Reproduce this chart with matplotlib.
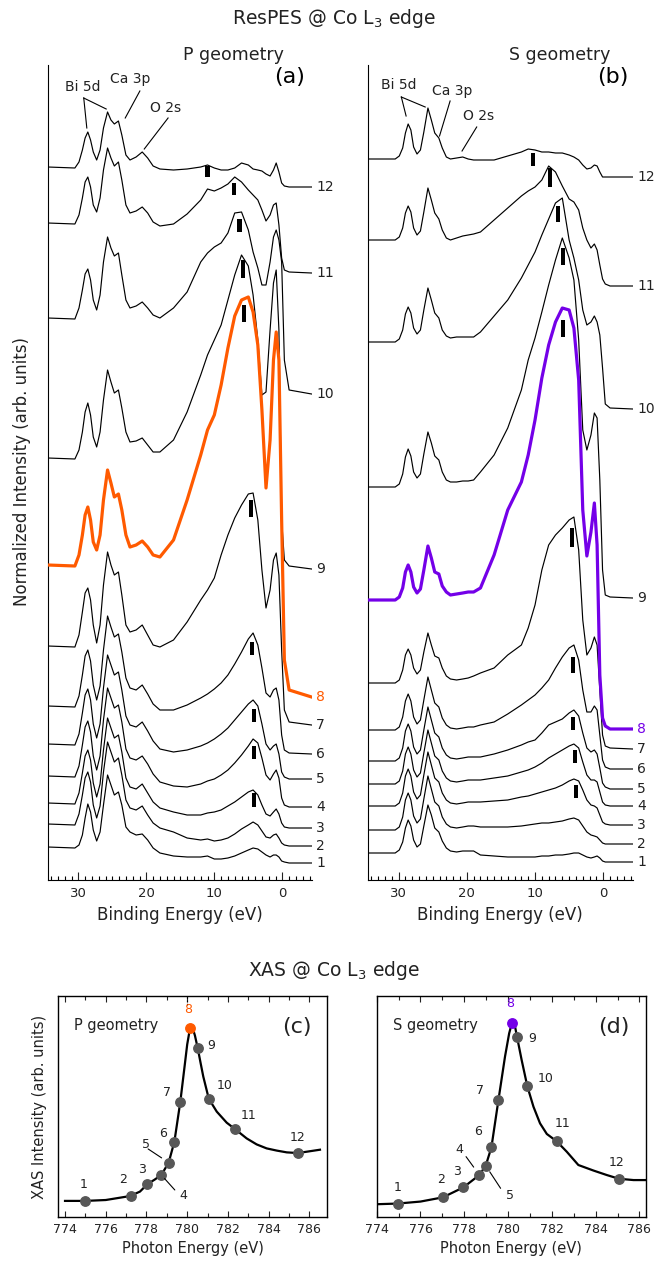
import matplotlib
matplotlib.use("Agg")
import matplotlib.pyplot as plt
from matplotlib.ticker import MultipleLocator
import numpy as np

plt.rcParams['font.family'] = ['DejaVu Sans']

# ---------------------------------------------------------------------------
# ResPES spectra: common binding-energy sampling (eV)
# ---------------------------------------------------------------------------
binding_energy = [34.5, 30.5, 29.9, 29.4, 29.0, 28.6, 28.2, 27.8, 27.3, 26.8,
                  26.3, 25.7, 25.2, 24.7, 24.1, 23.6, 23.0, 22.4, 21.5, 20.6,
                  19.8, 19.0, 18.0, 16.0, 14.0, 12.0, 11.0, 10.0, 9.0, 8.0,
                  7.0, 6.0, 5.0, 4.3, 3.6, 3.0, 2.4, 1.8, 1.3, 0.9,
                  0.5, 0.1, -0.3, -1.0, -4.3]

spectrum_ids = list(range(1, 13))

# P geometry: intensity of each spectrum above its own baseline (arb. units)
p_spec_1 = [16, 15, 18, 28, 45, 59, 51, 33, 22, 31, 58, 88, 78, 68, 71, 58, 36, 31, 28, 29, 23, 15, 10,
            7, 6, 6, 7, 4, 4, 5, 7, 10, 13, 15, 14, 11, 8, 6, 8, 8, 6, 2, 1, 0, 0]
p_spec_2 = [22, 21, 32, 51, 68, 74, 64, 41, 28, 40, 74, 104, 94, 84, 88, 71, 46, 38, 36, 40, 31, 23, 18,
            14, 8, 6, 7, 5, 6, 8, 12, 17, 21, 24, 21, 15, 9, 8, 11, 12, 8, 3, 1, 0, 0]
p_spec_3 = [25, 24, 35, 55, 72, 78, 68, 45, 31, 44, 78, 110, 100, 90, 93, 76, 50, 41, 39, 44, 35, 26, 20,
            16, 13, 13, 15, 16, 18, 22, 26, 31, 36, 38, 33, 23, 14, 12, 16, 19, 14, 5, 1, 0, 0]
p_spec_4 = [31, 30, 41, 62, 80, 86, 75, 51, 37, 51, 87, 119, 109, 99, 102, 85, 58, 49, 47, 51, 43, 33, 25,
            21, 20, 23, 26, 28, 32, 37, 44, 52, 61, 68, 64, 49, 32, 27, 33, 37, 29, 9, 2, 0, 0]
p_spec_5 = [35, 34, 45, 66, 84, 90, 79, 55, 41, 55, 91, 124, 114, 104, 107, 89, 63, 54, 52, 57, 48, 38, 30,
            27, 29, 33, 36, 40, 45, 51, 59, 67, 75, 79, 73, 55, 35, 29, 33, 35, 25, 7, 2, 0, 0]
p_spec_6 = [48, 47, 58, 79, 98, 104, 93, 69, 54, 68, 104, 138, 127, 117, 120, 102, 76, 66, 64, 69, 60, 50, 44,
            44, 49, 56, 60, 65, 71, 79, 90, 102, 115, 121, 109, 86, 61, 57, 64, 66, 54, 19, 4, 1, 0]
p_spec_7 = [79, 78, 90, 113, 132, 137, 125, 100, 82, 100, 140, 173, 160, 150, 153, 130, 100, 93, 95, 100, 90, 80, 78,
            85, 103, 125, 135, 147, 170, 190, 207, 220, 231, 232, 205, 155, 117, 135, 165, 172, 150, 75, 15, 3, 0]
p_spec_8 = [132, 131, 142, 162, 182, 190, 177, 155, 147, 162, 197, 227, 214, 200, 203, 187, 162, 150, 152, 156, 150, 142, 140,
            157, 197, 242, 267, 282, 312, 349, 381, 397, 400, 385, 352, 287, 209, 257, 337, 365, 337, 177, 37, 7, 0]
p_spec_9 = [111, 110, 119, 137, 157, 166, 154, 132, 122, 137, 169, 199, 187, 176, 179, 161, 137, 127, 128, 131, 124, 117, 117,
            129, 157, 194, 214, 229, 244, 269, 294, 314, 303, 274, 229, 174, 177, 239, 286, 299, 239, 49, 9, 3, 0]
p_spec_10 = [76, 75, 86, 104, 120, 125, 114, 94, 84, 99, 132, 157, 146, 138, 141, 119, 94, 86, 88, 92, 86, 79, 76,
             86, 102, 132, 141, 147, 151, 161, 181, 182, 164, 142, 126, 109, 109, 132, 157, 164, 154, 132, 34, 4, 0]
p_spec_11 = [50, 49, 58, 75, 91, 96, 86, 68, 61, 75, 103, 125, 115, 107, 111, 93, 68, 60, 62, 66, 60, 51, 47,
             49, 59, 73, 84, 82, 85, 89, 96, 91, 83, 78, 73, 63, 52, 58, 68, 70, 48, 15, 3, 1, 0]
p_spec_12 = [20, 19, 25, 37, 49, 55, 47, 35, 27, 37, 59, 75, 67, 63, 66, 52, 32, 27, 30, 35, 29, 21, 18,
             17, 18, 20, 22, 19, 17, 17, 19, 24, 22, 18, 17, 16, 13, 11, 17, 24, 15, 4, 1, 0, 0]
p_offsets = [17, 34, 52, 73, 101, 126, 155, 183, 311, 486, 607, 693]

# P geometry: position and extent of the valence-feature markers (spectra 3-12)
p_mark_ids = [3, 4, 5, 6, 7, 8, 9, 10, 11, 12]
p_mark_be = [4.1, 4.1, 4.2, 4.5, 4.65, 5.6, 5.8, 6.3, 7.05, 11.0]
p_mark_lo = [21, 48, 57, 99, 208, 375, 291, 162, 78, 10]
p_mark_hi = [35, 61, 70, 112, 225, 392, 309, 175, 90, 21]

# S geometry
s_spec_1 = [9, 9, 12, 20, 34, 42, 36, 22, 15, 18, 36, 57, 47, 34, 30, 21, 14, 11, 10, 11, 11, 11, 7,
            6, 5, 5, 5, 5, 6, 6, 7, 7, 8, 9, 9, 7, 5, 4, 5, 6, 4, 1, 0, 0, 0]
s_spec_2 = [14, 14, 17, 27, 44, 51, 44, 28, 21, 25, 45, 68, 55, 42, 38, 27, 20, 17, 16, 17, 18, 18, 17,
            17, 17, 18, 19, 20, 21, 21, 22, 23, 25, 26, 24, 18, 12, 9, 8, 7, 4, 1, 0, 0, 0]
s_spec_3 = [19, 19, 22, 32, 49, 56, 49, 33, 26, 30, 50, 73, 60, 47, 43, 32, 25, 22, 21, 22, 23, 23, 23,
            24, 25, 28, 29, 31, 33, 35, 37, 40, 44, 46, 44, 35, 25, 20, 19, 17, 10, 3, 1, 0, 0]
s_spec_4 = [22, 22, 25, 35, 52, 59, 52, 36, 29, 33, 53, 76, 63, 50, 46, 35, 28, 25, 24, 25, 26, 26, 26,
            28, 30, 34, 36, 39, 43, 48, 52, 56, 60, 62, 58, 44, 31, 26, 26, 24, 14, 4, 1, 0, 0]
s_spec_5 = [28, 28, 31, 41, 58, 65, 58, 42, 35, 39, 59, 82, 69, 56, 52, 41, 34, 31, 30, 31, 32, 32, 32,
            35, 39, 44, 47, 49, 56, 64, 67, 70, 76, 79, 73, 56, 41, 37, 39, 35, 21, 6, 2, 0, 0]
s_spec_6 = [39, 39, 42, 52, 68, 75, 68, 52, 45, 49, 69, 92, 79, 66, 62, 51, 44, 41, 40, 41, 42, 42, 44,
            47, 55, 64, 69, 74, 81, 89, 101, 112, 121, 124, 109, 79, 57, 57, 63, 59, 34, 9, 2, 0, 0]
s_spec_7 = [66, 66, 69, 79, 94, 100, 94, 81, 75, 79, 97, 116, 104, 93, 91, 81, 73, 70, 69, 70, 71, 73, 76,
            81, 94, 104, 121, 144, 179, 204, 214, 221, 229, 232, 199, 129, 94, 101, 112, 104, 59, 14, 3, 1, 0]
s_spec_8 = [129, 129, 132, 141, 157, 164, 157, 142, 136, 140, 159, 183, 171, 157, 155, 143, 137, 134, 135, 136, 137, 137, 141,
            174, 219, 247, 274, 309, 351, 384, 407, 421, 419, 401, 349, 219, 173, 197, 226, 184, 54, 11, 3, 0, 0]
s_spec_9 = [111, 111, 114, 124, 141, 149, 142, 126, 120, 124, 144, 166, 155, 142, 138, 126, 118, 116, 116, 117, 117, 118, 126,
            143, 170, 208, 238, 260, 286, 313, 338, 360, 340, 318, 258, 168, 148, 163, 185, 180, 118, 28, 3, 1, 0]
s_spec_10 = [67, 67, 70, 79, 95, 102, 96, 81, 75, 79, 99, 121, 109, 96, 91, 79, 73, 71, 72, 72, 72, 72, 77,
             93, 109, 131, 144, 157, 174, 190, 206, 211, 169, 151, 129, 99, 84, 87, 93, 87, 74, 41, 5, 1, 0]
s_spec_11 = [46, 46, 49, 58, 73, 80, 74, 58, 51, 55, 74, 98, 86, 73, 67, 56, 48, 46, 48, 50, 51, 52, 54,
             66, 78, 90, 95, 99, 106, 120, 114, 100, 87, 84, 76, 58, 46, 38, 42, 36, 21, 7, 2, 0, 0]
s_spec_12 = [18, 18, 21, 29, 44, 53, 47, 30, 23, 27, 45, 69, 57, 44, 39, 29, 20, 18, 19, 20, 18, 17, 17,
             17, 21, 25, 28, 27, 25, 25, 24, 24, 22, 20, 17, 12, 8, 9, 12, 11, 5, 0, 0, 0, 0]
s_offsets = [18, 36, 55, 74, 91, 111, 131, 151, 282, 471, 594, 703]

s_mark_ids = [3, 4, 5, 6, 7, 8, 9, 10, 11, 12]
s_mark_be = [4.0, 4.15, 4.4, 4.4, 4.55, 5.85, 5.9, 6.6, 7.8, 10.35]
s_mark_lo = [27, 43, 59, 96, 202, 392, 333, 187, 99, 11]
s_mark_hi = [40, 56, 72, 112, 221, 409, 350, 203, 118, 24]

# ---------------------------------------------------------------------------
# XAS at the Co L3 edge
# ---------------------------------------------------------------------------
xas_p_energy = [774.0, 775.0, 776.0, 777.0, 777.24, 777.68, 778.04, 778.4, 778.73, 779.09,
                779.37, 779.66, 779.89, 780.0, 780.14, 780.25, 780.38, 780.52, 780.65, 780.79,
                781.06, 781.45, 781.94, 782.35, 782.92, 783.41, 783.9, 784.4, 784.89, 785.43,
                785.87, 786.52]
xas_p_intensity = [0.074, 0.074, 0.078, 0.093, 0.098, 0.116, 0.149, 0.170, 0.191, 0.247,
                   0.341, 0.520, 0.695, 0.780, 0.854, 0.860, 0.820, 0.762, 0.700, 0.635,
                   0.535, 0.477, 0.427, 0.398, 0.356, 0.329, 0.311, 0.301, 0.293, 0.290,
                   0.296, 0.305]
xas_p_pts_energy = [775.0, 777.24, 778.04, 778.73, 779.09, 779.37, 779.66, 780.14, 780.52, 781.06, 782.35, 785.43]
xas_p_pts_intensity = [0.074, 0.098, 0.149, 0.191, 0.247, 0.341, 0.520, 0.854, 0.762, 0.535, 0.398, 0.290]

xas_s_energy = [774.0, 774.96, 776.0, 777.02, 777.96, 778.69, 778.98, 779.24, 779.56, 779.86,
                780.05, 780.18, 780.3, 780.41, 780.62, 780.88, 781.16, 781.46, 781.77, 782.22,
                782.68, 783.21, 783.9, 784.5, 785.06, 785.73, 786.3]
xas_s_intensity = [0.059, 0.062, 0.071, 0.090, 0.135, 0.191, 0.233, 0.316, 0.529, 0.725,
                   0.830, 0.878, 0.870, 0.814, 0.710, 0.591, 0.499, 0.424, 0.376, 0.343,
                   0.296, 0.236, 0.211, 0.191, 0.174, 0.168, 0.168]
xas_s_pts_energy = [774.96, 777.02, 777.96, 778.69, 778.98, 779.24, 779.56, 780.18, 780.41, 780.88, 782.22, 785.06]
xas_s_pts_intensity = [0.062, 0.090, 0.135, 0.191, 0.233, 0.316, 0.529, 0.878, 0.814, 0.591, 0.343, 0.174]

ORANGE = '#ff5a00'
PURPLE = '#7400e8'
GREY = '#575757'

W, H = 668, 1266
fig = plt.figure(figsize=(W / 100, H / 100), dpi=100)


def px_axes(left, top, right, bottom):
    return fig.add_axes([left / W, 1 - bottom / H, (right - left) / W, (bottom - top) / H])


def draw_respes(ax, spectra, offsets, hi_color, mark_ids, mark_be, mark_lo, mark_hi):
    for sid, vals, off in zip(spectrum_ids, spectra, offsets):
        y = np.asarray(vals, dtype=float) + off
        if sid == 8:
            ax.plot(binding_energy, y, color=hi_color, lw=2.3, zorder=4, solid_joinstyle='round')
        else:
            ax.plot(binding_energy, y, color='black', lw=0.85, zorder=3)
        ax.annotate(str(sid), xy=(1, off), xycoords=('axes fraction', 'data'),
                    xytext=(3.2, 0), textcoords='offset points', va='center', ha='left',
                    fontsize=10, color=hi_color if sid == 8 else '#222222', annotation_clip=False)
    bottoms = [offsets[i - 1] + lo for i, lo in zip(mark_ids, mark_lo)]
    heights = [hi - lo for lo, hi in zip(mark_lo, mark_hi)]
    ax.bar(mark_be, heights, bottom=bottoms, width=0.6, color='black', zorder=5)

    ax.set_xlim(34.53, -4.32)
    ax.set_ylim(0, 815)
    ax.set_yticks([])
    ax.xaxis.set_major_locator(MultipleLocator(10))
    ax.xaxis.set_minor_locator(MultipleLocator(1))
    ax.tick_params(axis='x', which='major', direction='in', length=5.5, width=0.8,
                   labelsize=9.5, pad=5, colors='#222222')
    ax.tick_params(axis='x', which='minor', direction='in', length=2.8, width=0.8)
    for side in ('top', 'right'):
        ax.spines[side].set_visible(False)
    for side in ('left', 'bottom'):
        ax.spines[side].set_linewidth(0.8)
    ax.set_xlabel('Binding Energy (eV)', fontsize=12, labelpad=4, color='#222222')


def annotate_peak(ax, text, text_xy, lines):
    ax.text(text_xy[0], text_xy[1], text, fontsize=10, ha='center', va='center', color='#222222')
    for (x0, y0), (x1, y1) in lines:
        ax.plot([x0, x1], [y0, y1], color='black', lw=0.8)


# (a) P geometry
ax_a = px_axes(47.5, 65, 311.7, 880)
draw_respes(ax_a, [p_spec_1, p_spec_2, p_spec_3, p_spec_4, p_spec_5, p_spec_6,
                   p_spec_7, p_spec_8, p_spec_9, p_spec_10, p_spec_11, p_spec_12],
            p_offsets, ORANGE, p_mark_ids, p_mark_be, p_mark_lo, p_mark_hi)
annotate_peak(ax_a, 'Bi 5d', (29.3, 793), [((29.2, 782), (28.75, 752)), ((29.2, 782), (25.9, 771))])
annotate_peak(ax_a, 'Ca 3p', (22.4, 801), [((20.95, 789), (23.1, 762))])
annotate_peak(ax_a, 'O 2s', (17.1, 772), [((16.8, 762), (20.3, 731))])
ax_a.text(0.915, 0.985, '(a)', transform=ax_a.transAxes, fontsize=16, ha='center', va='center')

# (b) S geometry
ax_b = px_axes(367.7, 65, 632.7, 880)
draw_respes(ax_b, [s_spec_1, s_spec_2, s_spec_3, s_spec_4, s_spec_5, s_spec_6,
                   s_spec_7, s_spec_8, s_spec_9, s_spec_10, s_spec_11, s_spec_12],
            s_offsets, PURPLE, s_mark_ids, s_mark_be, s_mark_lo, s_mark_hi)
annotate_peak(ax_b, 'Bi 5d', (30.0, 795), [((29.6, 783), (28.9, 764)), ((29.6, 783), (26.1, 773))])
annotate_peak(ax_b, 'Ca 3p', (22.2, 789), [((22.45, 779), (24.0, 744))])
annotate_peak(ax_b, 'O 2s', (18.3, 764), [((18.55, 753), (20.7, 729))])
ax_b.text(0.985, 0.985, '(b)', transform=ax_b.transAxes, fontsize=16, ha='right', va='center')

fig.text(334 / W, 1 - 18 / H, 'ResPES @ Co L$_3$ edge', fontsize=13.5, ha='center', va='center', color='#222222')
fig.text(233 / W, 1 - 55 / H, 'P geometry', fontsize=12.5, ha='center', va='center', color='#222222')
fig.text(560 / W, 1 - 55 / H, 'S geometry', fontsize=12.5, ha='center', va='center', color='#222222')
fig.text(22 / W, 1 - 472 / H, 'Normalized Intensity (arb. units)', fontsize=12, rotation=90,
         ha='center', va='center', color='#222222')


# XAS panels
def draw_xas(ax, energy, intensity, pts_e, pts_i, hi_color, xlim, geom, letter, label_offsets, leaders):
    ax.plot(energy, intensity, color='black', lw=1.6, zorder=2)
    for k, (e, v) in enumerate(zip(pts_e, pts_i)):
        sid = spectrum_ids[k]
        c = hi_color if sid == 8 else GREY
        ax.plot([e], [v], 'o', ms=6.8, color=c, mec=c, zorder=3)
        dx, dy = label_offsets[k]
        ax.annotate(str(sid), xy=(e, v), xytext=(dx, dy), textcoords='offset points',
                    ha='center', va='center', fontsize=9, color=hi_color if sid == 8 else '#222222')
    for k, far, near in leaders:
        ax.annotate('', xy=(pts_e[k], pts_i[k]), xytext=far, textcoords='offset points',
                    arrowprops=dict(arrowstyle='-', lw=0.8, color='black', shrinkA=0, shrinkB=near))
    ax.set_xlim(*xlim)
    ax.set_ylim(0, 1)
    ax.set_yticks([])
    ax.xaxis.set_major_locator(MultipleLocator(2))
    ax.xaxis.set_minor_locator(MultipleLocator(1))
    ax.tick_params(axis='x', which='both', direction='in', top=True, width=0.8,
                   labelsize=9, pad=4, colors='#222222')
    ax.tick_params(axis='x', which='major', length=4.5)
    ax.tick_params(axis='x', which='minor', length=3.0)
    for s in ax.spines.values():
        s.set_linewidth(1.0)
    ax.set_xlabel('Photon Energy (eV)', fontsize=10.5, labelpad=4, color='#222222')
    ax.text(0.06, 0.865, geom, transform=ax.transAxes, fontsize=10.5, ha='left', va='center', color='#222222')
    ax.text(0.94, 0.86, letter, transform=ax.transAxes, fontsize=16, ha='right', va='center', color='#222222')


ax_c = px_axes(58.3, 995.7, 327.3, 1217.3)
draw_xas(ax_c, xas_p_energy, xas_p_intensity, xas_p_pts_energy, xas_p_pts_intensity, ORANGE,
         (773.67, 786.88), 'P geometry', '(c)',
         [(-1, 11.5), (-5.5, 11.5), (-3.5, 11), (16, -14.5), (-16.5, 13), (-8, 6),
          (-9.5, 7), (-1.5, 13), (10, 2), (11.5, 9.5), (9.5, 10), (-0.5, 11.5)],
         [(3, (9.7, -10.8), 3.5), (4, (-14.8, 9.8), 6.1)])
ax_c.plot([780, 780], [0.958, 1.0], ls=(0, (1.5, 1.5)), color='black', lw=0.8)
ax_c.set_ylabel('XAS Intensity (arb. units)', fontsize=10.5, labelpad=8, color='#222222')

ax_d = px_axes(376.7, 995.7, 646.0, 1217.3)
draw_xas(ax_d, xas_s_energy, xas_s_intensity, xas_s_pts_energy, xas_s_pts_intensity, PURPLE,
         (774.0, 786.3), 'S geometry', '(d)',
         [(0, 11.5), (-1.5, 13), (-4.5, 11.5), (-14.5, 18), (17.5, -21.5), (-9.5, 11),
          (-13.5, 7), (-1.5, 13.5), (11, -1), (13, 6), (4.5, 13), (-1.5, 11.5)],
         [(3, (-9.6, 13.2), 7.0), (4, (10.7, -16.3), 5.3)])

fig.text(334 / W, 1 - 970 / H, 'XAS @ Co L$_3$ edge', fontsize=13.5, ha='center', va='center', color='#222222')

fig.savefig('out.png', dpi=100)
